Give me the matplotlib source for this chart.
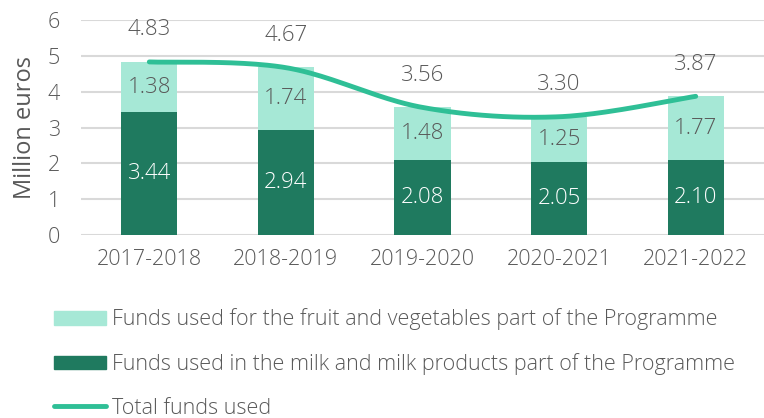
import matplotlib
matplotlib.use("Agg")
import matplotlib.pyplot as plt
import numpy as np
from matplotlib.patches import Patch
from matplotlib.lines import Line2D

years = ["2017-2018", "2018-2019", "2019-2020", "2020-2021", "2021-2022"]
milk = [3.44, 2.94, 2.08, 2.05, 2.10]
fruit = [1.38, 1.74, 1.48, 1.25, 1.77]
total = [4.83, 4.67, 3.56, 3.30, 3.87]

DARK = "#1f7a5f"
LIGHT = "#a6e8d6"
LINE = "#2fbf96"
TXT = "#595959"
GRID = "#d9d9d9"

plt.rcParams['font.family'] = ['Open Sans', 'DejaVu Sans']
plt.rcParams['font.weight'] = 'light'

fig = plt.figure(figsize=(7.64, 4.18), dpi=100)
ax = fig.add_axes([81/764, (418-235)/418, (764-81)/764, 215/418])

x = np.arange(len(years))
w = 0.41
ax.bar(x, milk, w, color=DARK, zorder=2)
ax.bar(x, fruit, w, bottom=milk, color=LIGHT, zorder=2)

# Excel-like smoothed line (Catmull-Rom through the data points)
def catmull(xs, ys, n=40):
    px = np.concatenate([[xs[0]], xs, [xs[-1]]])
    py = np.concatenate([[ys[0]], ys, [ys[-1]]])
    outx, outy = [], []
    for i in range(1, len(px) - 2):
        p0 = np.array([px[i-1], py[i-1]]); p1 = np.array([px[i], py[i]])
        p2 = np.array([px[i+1], py[i+1]]); p3 = np.array([px[i+2], py[i+2]])
        c1 = p1 + (p2 - p0) / 6.0
        c2 = p2 - (p3 - p1) / 6.0
        t = np.linspace(0, 1, n)[:, None]
        pts = (1-t)**3*p1 + 3*(1-t)**2*t*c1 + 3*(1-t)*t**2*c2 + t**3*p2
        outx.extend(pts[:, 0]); outy.extend(pts[:, 1])
    return np.array(outx), np.array(outy)

sx, sy = catmull(x.astype(float), np.array(total, dtype=float))
ax.plot(sx, sy, color=LINE, lw=3.5, solid_capstyle='round', zorder=3)

FS = 16
for i in range(len(years)):
    ax.text(x[i], milk[i]/2, f"{milk[i]:.2f}", ha='center', va='center', color='white', fontsize=FS, zorder=4)
    ax.text(x[i], milk[i] + fruit[i]/2, f"{fruit[i]:.2f}", ha='center', va='center', color=TXT, fontsize=FS, zorder=4)
    ax.annotate(f"{total[i]:.2f}", (x[i], total[i]), xytext=(0, 23), textcoords='offset points',
                ha='center', va='center', color=TXT, fontsize=FS, zorder=4)

ax.set_xlim(-0.5, 4.5)
ax.set_ylim(0, 6)
ax.set_yticks(range(0, 7))
ax.set_xticks(x)
ax.set_xticklabels(years)
ax.tick_params(axis='both', length=0, colors=TXT, labelsize=15.5)
ax.tick_params(axis='x', pad=10)
ax.tick_params(axis='y', pad=15)
ax.yaxis.grid(True, color=GRID, lw=1.5, zorder=0)
ax.set_axisbelow(True)
for s in ax.spines.values():
    s.set_visible(False)
ax.set_ylabel("Million euros", color=TXT, fontsize=17, labelpad=8)

handles = [Patch(color=LIGHT), Patch(color=DARK), Line2D([0], [0], color=LINE, lw=3.5, solid_capstyle='round')]
labels = ["Funds used for the fruit and vegetables part of the Programme",
          "Funds used in the milk and milk products part of the Programme",
          "Total funds used"]
leg = fig.legend(handles, labels, loc='upper left', bbox_to_anchor=(0.0707, 0.262), frameon=False,
                 fontsize=15.5, labelspacing=1.05, handlelength=2.42, handleheight=0.62,
                 handletextpad=0.28, labelcolor=TXT, borderaxespad=0, borderpad=0)

fig.savefig("out.png", dpi=100)
